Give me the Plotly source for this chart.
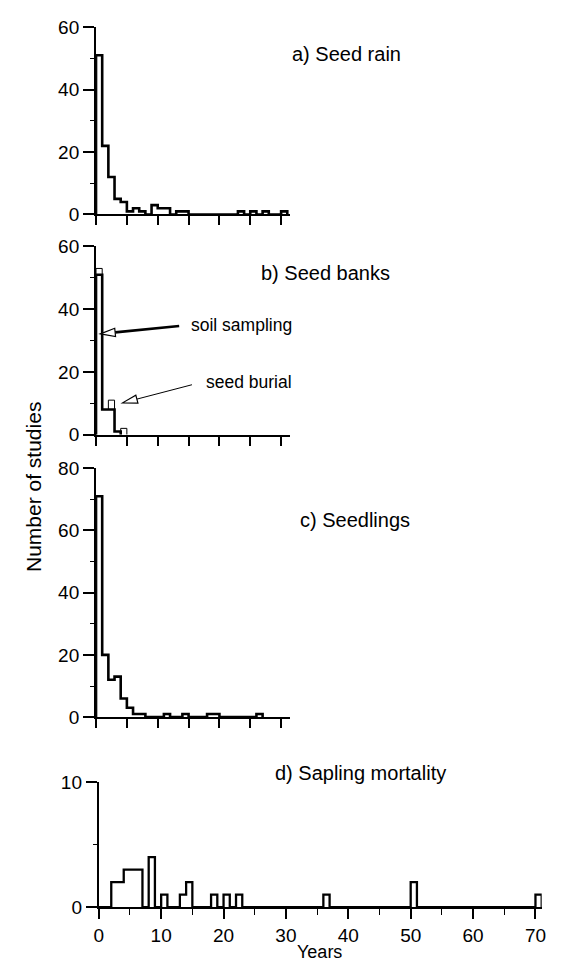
import math
import plotly.graph_objects as go

W, H = 564, 974

# ---------------- data (counts per 1-year bin, starting at year 0) ----------------
seed_rain = [51, 22, 12, 5, 4, 1, 2, 1, 0, 3, 2, 2, 0, 1, 1, 0, 0, 0, 0, 0,
             0, 0, 0, 1, 0, 1, 0, 1, 0, 0, 1]
soil_sampling = [51, 8, 8, 1]
seed_bank_total = [53, 8, 11, 1, 2]          # soil sampling + seed burial
seedlings = [71, 20, 12, 13, 6, 3, 1, 1, 0, 0, 0, 1, 0, 0, 1, 0, 0, 0, 1, 1,
             0, 0, 0, 0, 0, 0, 1]
sapling_years = [2, 3, 4, 5, 6, 8, 10, 13, 14, 18, 20, 22, 36, 50, 70]
sapling_counts = [2, 2, 3, 3, 3, 4, 1, 1, 2, 1, 1, 1, 1, 2, 1]

panel_titles = ["a) Seed rain", "b) Seed banks", "c) Seedlings", "d) Sapling mortality"]
y_major = [[0, 20, 40, 60], [0, 20, 40, 60], [0, 20, 40, 60, 80], [0, 10]]
y_minor = [[10, 30, 50], [10, 30, 50], [10, 30, 50, 70], [5]]
x_top_ticks = [0, 5, 10, 15, 20, 25, 30]
x_d_major = [0, 10, 20, 30, 40, 50, 60, 70]
x_d_minor = [5, 15, 25, 35, 45, 55, 65]

sapling = [0] * (max(sapling_years) + 1)
for yr, c in zip(sapling_years, sapling_counts):
    sapling[yr] = c

# ---------------- layout geometry (pixels) ----------------
# (x0, x1, xrange_max, ytop, ybottom, yrange_max)
geo = [
    (92.5, 290.0, 31.5, 17.6, 209.0, 60),
    (92.5, 290.0, 31.5, 241.7, 434.0, 60),
    (92.5, 290.0, 31.5, 468.3, 722.7, 80),
    (95.3, 545.4, 71.0, 789.0, 917.0, 10),
]

FONT = "Liberation Sans, Arial, Helvetica, sans-serif"
TICK_SIZE = 19
TITLE_SIZE = 20


def px_x(p):
    return p / W


def px_y(p):
    return 1 - p / H


def step_xy(counts):
    xs, ys = [0], [0]
    for i, c in enumerate(counts):
        xs.append(i)
        ys.append(c)
    xs.append(len(counts))
    ys.append(0)
    return xs, ys


fig = go.Figure()

series = [
    [(seed_rain, 2.6)],
    [(seed_bank_total, 1.0), (soil_sampling, 2.6)],
    [(seedlings, 2.6)],
    [(sapling, 2.3)],
]

for k, lst in enumerate(series):
    sfx = "" if k == 0 else str(k + 1)
    for counts, lw in lst:
        xs, ys = step_xy(counts)
        fig.add_trace(go.Scatter(
            x=xs, y=ys, mode="lines", line=dict(color="black", width=lw, shape="hv"),
            xaxis="x" + sfx, yaxis="y" + sfx, showlegend=False, hoverinfo="skip"))

layout = dict(
    width=W, height=H, margin=dict(l=0, r=0, t=0, b=0),
    paper_bgcolor="white", plot_bgcolor="rgba(0,0,0,0)",
    font=dict(family=FONT, size=TICK_SIZE, color="black"),
    showlegend=False,
)

for k, (x0, x1, xr, yt, yb, yr) in enumerate(geo):
    sfx = "" if k == 0 else str(k + 1)
    xa = dict(domain=[px_x(x0), px_x(x1)], range=[0, xr], anchor="y" + sfx,
              showline=True, linecolor="black", linewidth=2, showgrid=False,
              zeroline=False, ticks="outside", tickcolor="black", tickwidth=1.5,
              fixedrange=True)
    if k < 3:
        xa.update(tickvals=x_top_ticks, ticklen=9, showticklabels=False)
    else:
        xa.update(tickvals=x_d_major, ticktext=[str(v) for v in x_d_major],
                  ticklen=10, showticklabels=True,
                  tickfont=dict(size=TICK_SIZE, family=FONT, color="black"),
                  minor=dict(tickvals=x_d_minor, ticks="outside", ticklen=6,
                             tickwidth=1.2, tickcolor="black", showgrid=False))
    ya = dict(domain=[px_y(yb), px_y(yt)], range=[0, yr], anchor="x" + sfx,
              showline=True, linecolor="black", linewidth=2, showgrid=False,
              zeroline=False, ticks="outside", ticklen=11, tickwidth=1.5,
              tickcolor="black", tickvals=y_major[k],
              ticktext=[str(v) for v in y_major[k]],
              tickfont=dict(size=TICK_SIZE, family=FONT, color="black"),
              minor=dict(tickvals=y_minor[k], ticks="outside", ticklen=4,
                         tickwidth=1.2, tickcolor="black", showgrid=False),
              fixedrange=True)
    layout["xaxis" + sfx] = xa
    layout["yaxis" + sfx] = ya

fig.update_layout(**layout)

# ---------------- text annotations ----------------
title_pos = [(290, 45), (258, 269), (298, 521), (272, 780)]
annotations = []
for t, (px, py) in zip(panel_titles, title_pos):
    annotations.append(dict(text=t, x=px_x(px), y=px_y(py), xref="paper", yref="paper",
                            xanchor="left", yanchor="middle", showarrow=False,
                            font=dict(size=TITLE_SIZE, family=FONT, color="black")))

annotations.append(dict(text="soil sampling", x=px_x(187), y=px_y(322), xref="paper",
                        yref="paper", xanchor="left", yanchor="middle", showarrow=False,
                        font=dict(size=17.5, family=FONT, color="black")))
annotations.append(dict(text="seed burial", x=px_x(202), y=px_y(380), xref="paper",
                        yref="paper", xanchor="left", yanchor="middle", showarrow=False,
                        font=dict(size=17.5, family=FONT, color="black")))
annotations.append(dict(text="Number of studies", x=px_x(29), y=px_y(488), xref="paper",
                        yref="paper", xanchor="center", yanchor="middle", textangle=-90,
                        showarrow=False, font=dict(size=21, family=FONT, color="black")))
annotations.append(dict(text="Years", x=px_x(320), y=px_y(963), xref="paper",
                        yref="paper", xanchor="center", yanchor="middle",
                        showarrow=False, font=dict(size=18, family=FONT, color="black")))
fig.update_layout(annotations=annotations)


# ---------------- open-head arrows ----------------
def arrow(tip, tail, shaft_w, head_len=15, half_w=4.2):
    tx, ty = tip
    sx, sy = tail
    dx, dy = sx - tx, sy - ty
    n = math.hypot(dx, dy)
    ux, uy = dx / n, dy / n
    bx, by = tx + head_len * ux, ty + head_len * uy
    nx, ny = -uy, ux
    c1 = (bx + half_w * nx, by + half_w * ny)
    c2 = (bx - half_w * nx, by - half_w * ny)
    return [
        dict(type="line", xref="paper", yref="paper",
             x0=px_x(bx), y0=px_y(by), x1=px_x(sx), y1=px_y(sy),
             line=dict(color="black", width=shaft_w)),
        dict(type="path", xref="paper", yref="paper",
             path="M {} {} L {} {} L {} {} Z".format(
                 px_x(tx), px_y(ty), px_x(c1[0]), px_y(c1[1]), px_x(c2[0]), px_y(c2[1])),
             fillcolor="white", line=dict(color="black", width=1.2)),
    ]


shapes = arrow((97, 331), (177, 323), 2.6) + arrow((119.5, 401.5), (190, 383), 1.0)
fig.update_layout(shapes=shapes)

fig.write_html("out.html")
